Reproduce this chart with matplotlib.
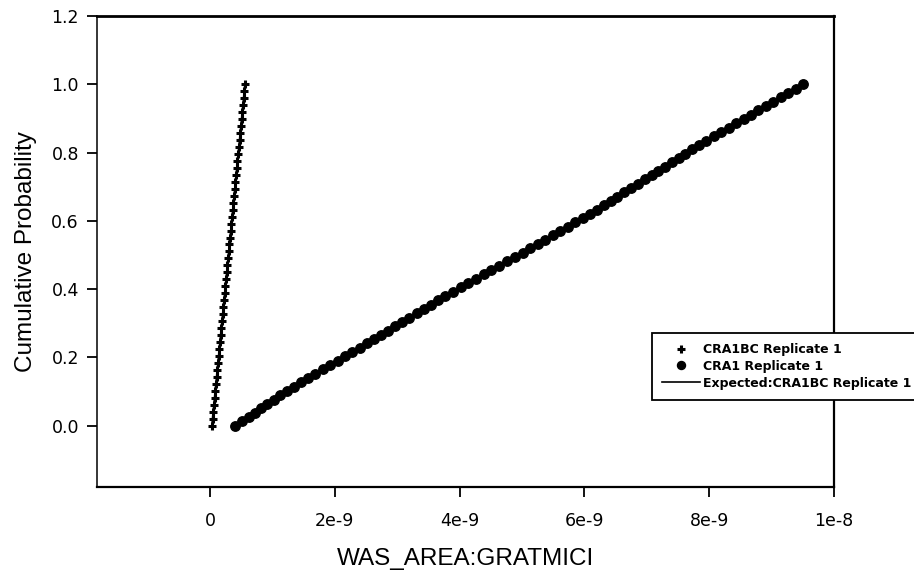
import numpy as np
import matplotlib
matplotlib.use("Agg")
import matplotlib.pyplot as plt

# CRA1 Replicate 1 (x in units of 1e-9)
cra1_x = [0.40, 0.52, 0.62, 0.72, 0.82, 0.92, 1.03, 1.13, 1.24, 1.35,
          1.46, 1.57, 1.69, 1.81, 1.93, 2.05, 2.17, 2.28, 2.40, 2.52,
          2.63, 2.74, 2.85, 2.97, 3.08, 3.19, 3.31, 3.43, 3.54, 3.65,
          3.77, 3.89, 4.02, 4.14, 4.26, 4.39, 4.51, 4.63, 4.76, 4.89,
          5.01, 5.13, 5.25, 5.37, 5.49, 5.61, 5.73, 5.85, 5.97, 6.09,
          6.20, 6.31, 6.42, 6.53, 6.64, 6.75, 6.86, 6.97, 7.08, 7.18,
          7.29, 7.40, 7.51, 7.62, 7.73, 7.84, 7.95, 8.07, 8.19, 8.31,
          8.43, 8.55, 8.67, 8.79, 8.91, 9.03, 9.15, 9.27, 9.39, 9.50]
cra1_y = [0.000, 0.013, 0.025, 0.038, 0.051, 0.063, 0.076, 0.089, 0.101, 0.114,
          0.127, 0.139, 0.152, 0.165, 0.177, 0.190, 0.203, 0.215, 0.228, 0.241,
          0.253, 0.266, 0.278, 0.291, 0.304, 0.316, 0.329, 0.342, 0.354, 0.367,
          0.380, 0.392, 0.405, 0.418, 0.430, 0.443, 0.456, 0.468, 0.481, 0.494,
          0.506, 0.519, 0.532, 0.544, 0.557, 0.570, 0.582, 0.595, 0.608, 0.620,
          0.633, 0.646, 0.658, 0.671, 0.684, 0.696, 0.709, 0.722, 0.734, 0.747,
          0.759, 0.772, 0.785, 0.797, 0.810, 0.823, 0.835, 0.848, 0.861, 0.873,
          0.886, 0.899, 0.911, 0.924, 0.937, 0.949, 0.962, 0.975, 0.987, 1.000]

# CRA1BC Replicate 1 (x in units of 1e-9)
crabc_x = [0.030, 0.041, 0.052, 0.062, 0.073, 0.084, 0.095, 0.106, 0.116, 0.128,
           0.138, 0.149, 0.160, 0.170, 0.182, 0.192, 0.203, 0.214, 0.225, 0.236,
           0.246, 0.257, 0.268, 0.279, 0.290, 0.300, 0.311, 0.322, 0.333, 0.344,
           0.354, 0.365, 0.376, 0.387, 0.398, 0.408, 0.420, 0.430, 0.441, 0.452,
           0.462, 0.474, 0.484, 0.495, 0.506, 0.517, 0.528, 0.538, 0.549, 0.560]
crabc_y = [0.000, 0.020, 0.041, 0.061, 0.082, 0.102, 0.122, 0.143, 0.163, 0.184,
           0.204, 0.224, 0.245, 0.265, 0.286, 0.306, 0.327, 0.347, 0.367, 0.388,
           0.408, 0.429, 0.449, 0.469, 0.490, 0.510, 0.531, 0.551, 0.571, 0.592,
           0.612, 0.633, 0.653, 0.673, 0.694, 0.714, 0.735, 0.755, 0.776, 0.796,
           0.816, 0.837, 0.857, 0.878, 0.898, 0.918, 0.939, 0.959, 0.980, 1.000]

# Expected:CRA1BC Replicate 1
expected_x = [0.03, 0.56]
expected_y = [0.0, 1.0]

x_ticks = [0, 2e-9, 4e-9, 6e-9, 8e-9, 1e-8]
x_tick_labels = ["0", "2e-9", "4e-9", "6e-9", "8e-9", "1e-8"]
y_ticks = [0.0, 0.2, 0.4, 0.6, 0.8, 1.0, 1.2]
y_tick_labels = ["0.0", "0.2", "0.4", "0.6", "0.8", "1.0", "1.2"]

scale = 1e-9

plt.rcParams['font.family'] = ['Liberation Sans', 'DejaVu Sans']

fig = plt.figure(figsize=(9.14, 5.75), dpi=100)
ax = fig.add_axes([97/914, 1 - 487/575, (834 - 97)/914, (487 - 16)/575])

ax.plot(np.array(expected_x) * scale, expected_y, color='black', lw=1.2,
        label='Expected:CRA1BC Replicate 1', zorder=2)
ax.plot(np.array(crabc_x) * scale, crabc_y, linestyle='none', marker='+',
        markersize=6, markeredgewidth=2.2, color='black',
        label='CRA1BC Replicate 1', zorder=3)
ax.plot(np.array(cra1_x) * scale, cra1_y, linestyle='none', marker='o',
        markersize=6.8, color='black', label='CRA1 Replicate 1', zorder=3)

ax.set_xlim(-1.81e-9, 1e-8)
ax.set_ylim(-0.18, 1.2)
ax.set_xticks(x_ticks)
ax.set_xticklabels(x_tick_labels, fontfamily='DejaVu Sans')
ax.set_yticks(y_ticks)
ax.set_yticklabels(y_tick_labels, fontfamily='DejaVu Sans')
ax.tick_params(axis='both', direction='out', length=7, width=1.3,
               labelsize=12.5, colors='black')
ax.tick_params(axis='x', pad=11)
ax.tick_params(axis='y', pad=6)

for s in ax.spines.values():
    s.set_linewidth(1.6)
    s.set_color('black')
ax.spines['left'].set_linewidth(1.1)
ax.spines['top'].set_linewidth(2.0)

ax.set_xlabel('WAS_AREA:GRATMICI', fontsize=17.5, labelpad=13)
ax.set_ylabel('Cumulative Probability', fontsize=17.5, labelpad=10)

handles, labels = ax.get_legend_handles_labels()
order = [1, 2, 0]
leg = fig.legend([handles[i] for i in order], [labels[i] for i in order],
                 loc='upper left', bbox_to_anchor=(652/914, 1 - 333/575),
                 prop={'family': 'DejaVu Sans', 'weight': 'bold', 'size': 9},
                 frameon=True, fancybox=False, edgecolor='black', framealpha=1,
                 handlelength=3.0, handletextpad=0.3, borderpad=0.8,
                 labelspacing=0.3, markerscale=0.85, borderaxespad=0)
leg.get_frame().set_linewidth(1.3)

fig.savefig('out.png', dpi=100)
